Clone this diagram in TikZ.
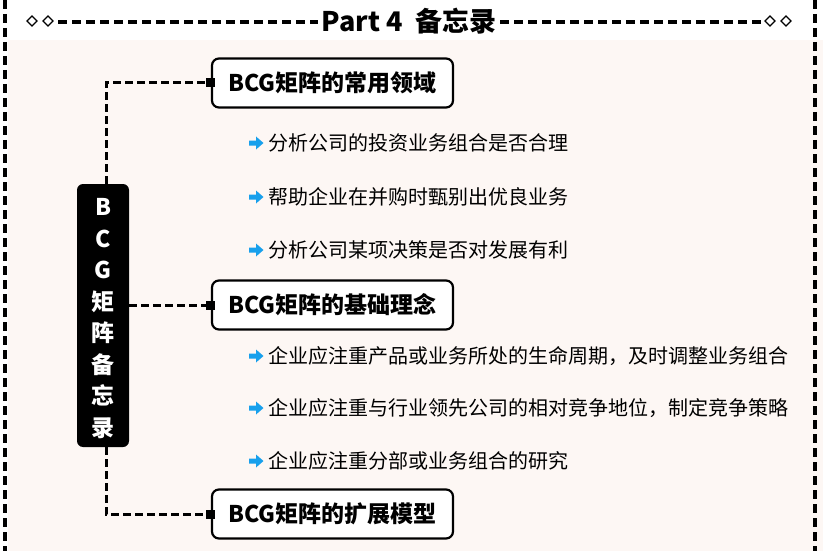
\documentclass[tikz,border=0pt]{standalone}
\usepackage{fontspec}
\setmainfont{Noto Sans CJK SC}
\definecolor{bgpink}{RGB}{253,247,244}
\definecolor{arrowblue}{RGB}{24,160,236}
\begin{document}
\begin{tikzpicture}[x=1pt,y=-1pt,
  brd/.style={line width=3.5pt, dash pattern=on 9pt off 5pt},
  conn/.style={line width=3pt, dash pattern=on 8pt off 4pt},
  topic/.style={draw, line width=2.2pt, rounded corners=7pt, fill=white,
    minimum width=241pt, minimum height=49pt, inner sep=0pt,
    font=\bfseries\fontsize{23}{27}\selectfont},
  item/.style={anchor=west, font=\fontsize{20}{24}\selectfont, inner sep=0pt},
  endsq/.style={fill=black, minimum size=9pt, inner sep=0pt},
  diam/.style={line width=1.2pt},
  barrow/.pic={\fill[arrowblue] (0,-2.5)--(7,-2.5)--(7,-6.5)--(14.5,0)--(7,6.5)--(7,2.5)--(0,2.5)--cycle;}
]
\useasboundingbox (0,0) rectangle (823,551);
\fill[white] (0,0) rectangle (823,551);
\fill[bgpink] (8,40) rectangle (823,551);
% outer border
\draw[brd] (5,0) -- (5,551);
\draw[brd] (815,0) -- (815,551);
% title
\node[inner sep=0pt, font=\bfseries\fontsize{27}{31}\selectfont] (title) at (409,21) {Part 4\ \ 备忘录};
\draw[brd] (58,22) -- ([xshift=-4pt]title.west |- 0,22);
\draw[brd] ([xshift=4pt]title.east |- 0,22) -- (762,22);
\draw[diam] (32,16)--(37,21)--(32,26)--(27,21)--cycle;
\draw[diam] (48,16)--(53,21)--(48,26)--(43,21)--cycle;
\draw[diam] (770,16)--(775,21)--(770,26)--(765,21)--cycle;
\draw[diam] (786,16)--(791,21)--(786,26)--(781,21)--cycle;
% center node
\node[fill=black, rounded corners=6pt, minimum width=52pt, minimum height=263pt, inner sep=0pt] (center) at (103,315.5) {};
\node[inner sep=0pt, text=white, align=center, font=\bfseries\fontsize{23}{31.5}\selectfont] (ctext) at (103,318.5) {B\\C\\G\\矩\\阵\\备\\忘\\录};
% topics
\node[topic] (t1) at (332.5,83) {BCG矩阵的常用领域};
\node[topic] (t2) at (332.5,305) {BCG矩阵的基础理念};
\node[topic] (t3) at (332.5,514) {BCG矩阵的扩展模型};
% connectors
\draw[conn] ([xshift=3pt]center.north) |- (t1.west);
\draw[conn] (center.east |- t2.west) -- (t2.west);
\draw[conn] ([xshift=3pt]center.south) |- (t3.west);
\node[endsq] (s1) at (t1.west) {};
\node[endsq] (s2) at (t2.west) {};
\node[endsq] (s3) at (t3.west) {};
% items
\pic at (249,143) {barrow};
\node[item] (i1) at (268,143) {分析公司的投资业务组合是否合理};
\pic at (249,197) {barrow};
\node[item] (i2) at (268,197) {帮助企业在并购时甄别出优良业务};
\pic at (249,250) {barrow};
\node[item] (i3) at (268,250) {分析公司某项决策是否对发展有利};
\pic at (249,356) {barrow};
\node[item] (i4) at (268,356) {企业应注重产品或业务所处的生命周期，及时调整业务组合};
\pic at (249,408) {barrow};
\node[item] (i5) at (268,408) {企业应注重与行业领先公司的相对竞争地位，制定竞争策略};
\pic at (249,461) {barrow};
\node[item] (i6) at (268,461) {企业应注重分部或业务组合的研究};
\end{tikzpicture}
\end{document}
